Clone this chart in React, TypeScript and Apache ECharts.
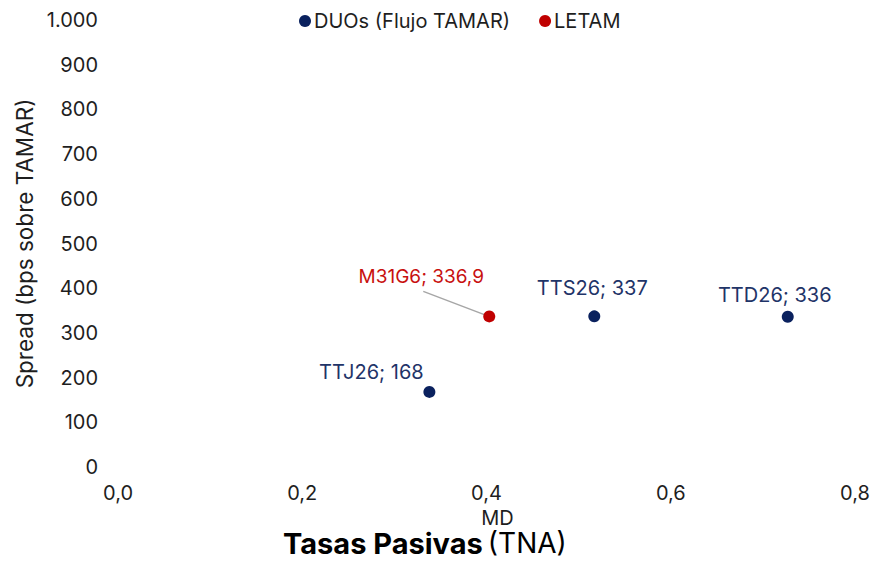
import React, { useEffect, useRef } from "react";
import * as echarts from "echarts";

const duoNames = ["TTJ26", "TTS26", "TTD26"];
const duoMD = [0.338, 0.517, 0.727];
const duoSpread = [168, 337, 336];
const letamNames = ["M31G6"];
const letamMD = [0.403];
const letamSpread = [336.9];
const seriesNames = ["DUOs (Flujo TAMAR)", "LETAM"];

const FONT = "Inter, 'Noto Sans', sans-serif";
const NAVY = "#0A215E";
const RED = "#C00000";
const TXT = "#1E1E1E";

export default function App() {
  const ref = useRef<HTMLDivElement>(null);
  useEffect(() => {
    if (!ref.current) return;
    const chart = echarts.init(ref.current, undefined, { renderer: "svg" });
    const duoShift = [
      [-58, 2],
      [-2, -6],
      [-13, 0],
    ];
    const letamShift = [[-68, -18]];
    const leader = { from: [-66, -25], to: [-3, -1] };
    chart.setOption({
      animation: false,
      textStyle: { fontFamily: FONT },
      title: {
        text: "{b|Tasas Pasivas} {n|(TNA)}",
        left: 278,
        bottom: -3,
        textStyle: {
          fontWeight: "normal",
          rich: {
            b: { fontFamily: FONT, fontSize: 29, fontWeight: "bold", color: "#000", lineHeight: 26 },
            n: { fontFamily: FONT, fontSize: 28, fontWeight: "normal", color: "#000", lineHeight: 26 },
          },
        },
      },
      legend: {
        top: 6,
        left: 294,
        itemWidth: 12,
        itemHeight: 12,
        itemGap: 29,
        icon: "circle",
        textStyle: { fontFamily: FONT, fontSize: 20, color: TXT, padding: [0, 0, 0, -2] },
        data: seriesNames,
      },
      grid: { left: 118, right: 20, top: 20, bottom: 94 },
      xAxis: {
        type: "value",
        min: 0,
        max: 0.8,
        interval: 0.2,
        name: "MD",
        nameLocation: "middle",
        nameGap: 43,
        nameTextStyle: {
          fontFamily: FONT,
          fontSize: 20,
          lineHeight: 16,
          color: TXT,
          padding: [0, 0, 0, 22],
        },
        axisLine: { show: false },
        axisTick: { show: false },
        splitLine: { show: false },
        axisLabel: {
          fontFamily: FONT,
          fontSize: 20,
          color: TXT,
          margin: 16,
          formatter: (v: number) => v.toFixed(1).replace(".", ","),
        },
      },
      yAxis: {
        type: "value",
        min: 0,
        max: 1000,
        interval: 100,
        name: "Spread (bps sobre TAMAR)",
        nameLocation: "middle",
        nameGap: 68,
        nameTextStyle: { fontFamily: FONT, fontSize: 22.5, color: TXT },
        axisLine: { show: false },
        axisTick: { show: false },
        splitLine: { show: false },
        axisLabel: {
          fontFamily: FONT,
          fontSize: 20,
          color: TXT,
          margin: 20,
          formatter: (v: number) => (v >= 1000 ? v.toLocaleString("de-DE") : String(v)),
        },
      },
      series: [
        {
          name: "leader",
          type: "custom",
          silent: true,
          data: letamMD.map((x, i) => [x, letamSpread[i]]),
          renderItem: (params: any, api: any) => {
            const p = api.coord([api.value(0), api.value(1)]);
            return {
              type: "line",
              shape: {
                x1: p[0] + leader.from[0],
                y1: p[1] + leader.from[1],
                x2: p[0] + leader.to[0],
                y2: p[1] + leader.to[1],
              },
              style: { stroke: "#A6A6A6", lineWidth: 1.5 },
            };
          },
        },
        {
          name: seriesNames[0],
          type: "scatter",
          symbolSize: 12,
          itemStyle: { color: NAVY, opacity: 1 },
          data: duoMD.map((x, i) => ({ value: [x, duoSpread[i]], name: duoNames[i] })),
          label: {
            show: true,
            position: "top",
            distance: 6,
            fontFamily: FONT,
            fontSize: 20,
            color: "#1F3468",
            formatter: (p: any) => `${p.name}; ${p.value[1]}`,
          },
          labelLayout: (p: any) => ({ dx: duoShift[p.dataIndex][0], dy: duoShift[p.dataIndex][1] }),
        },
        {
          name: seriesNames[1],
          type: "scatter",
          symbolSize: 12,
          itemStyle: { color: RED, opacity: 1 },
          data: letamMD.map((x, i) => ({ value: [x, letamSpread[i]], name: letamNames[i] })),
          label: {
            show: true,
            position: "top",
            distance: 6,
            fontFamily: FONT,
            fontSize: 19,
            color: "#C8100F",
            formatter: (p: any) => `${p.name}; ${String(p.value[1]).replace(".", ",")}`,
          },
          labelLayout: (p: any) => ({ dx: letamShift[p.dataIndex][0], dy: letamShift[p.dataIndex][1] }),
        },
      ],
    });
    return () => chart.dispose();
  }, []);
  return (
    <div
      ref={ref}
      style={{ position: "absolute", left: 0, top: 0, width: 875, height: 561 }}
    />
  );
}
